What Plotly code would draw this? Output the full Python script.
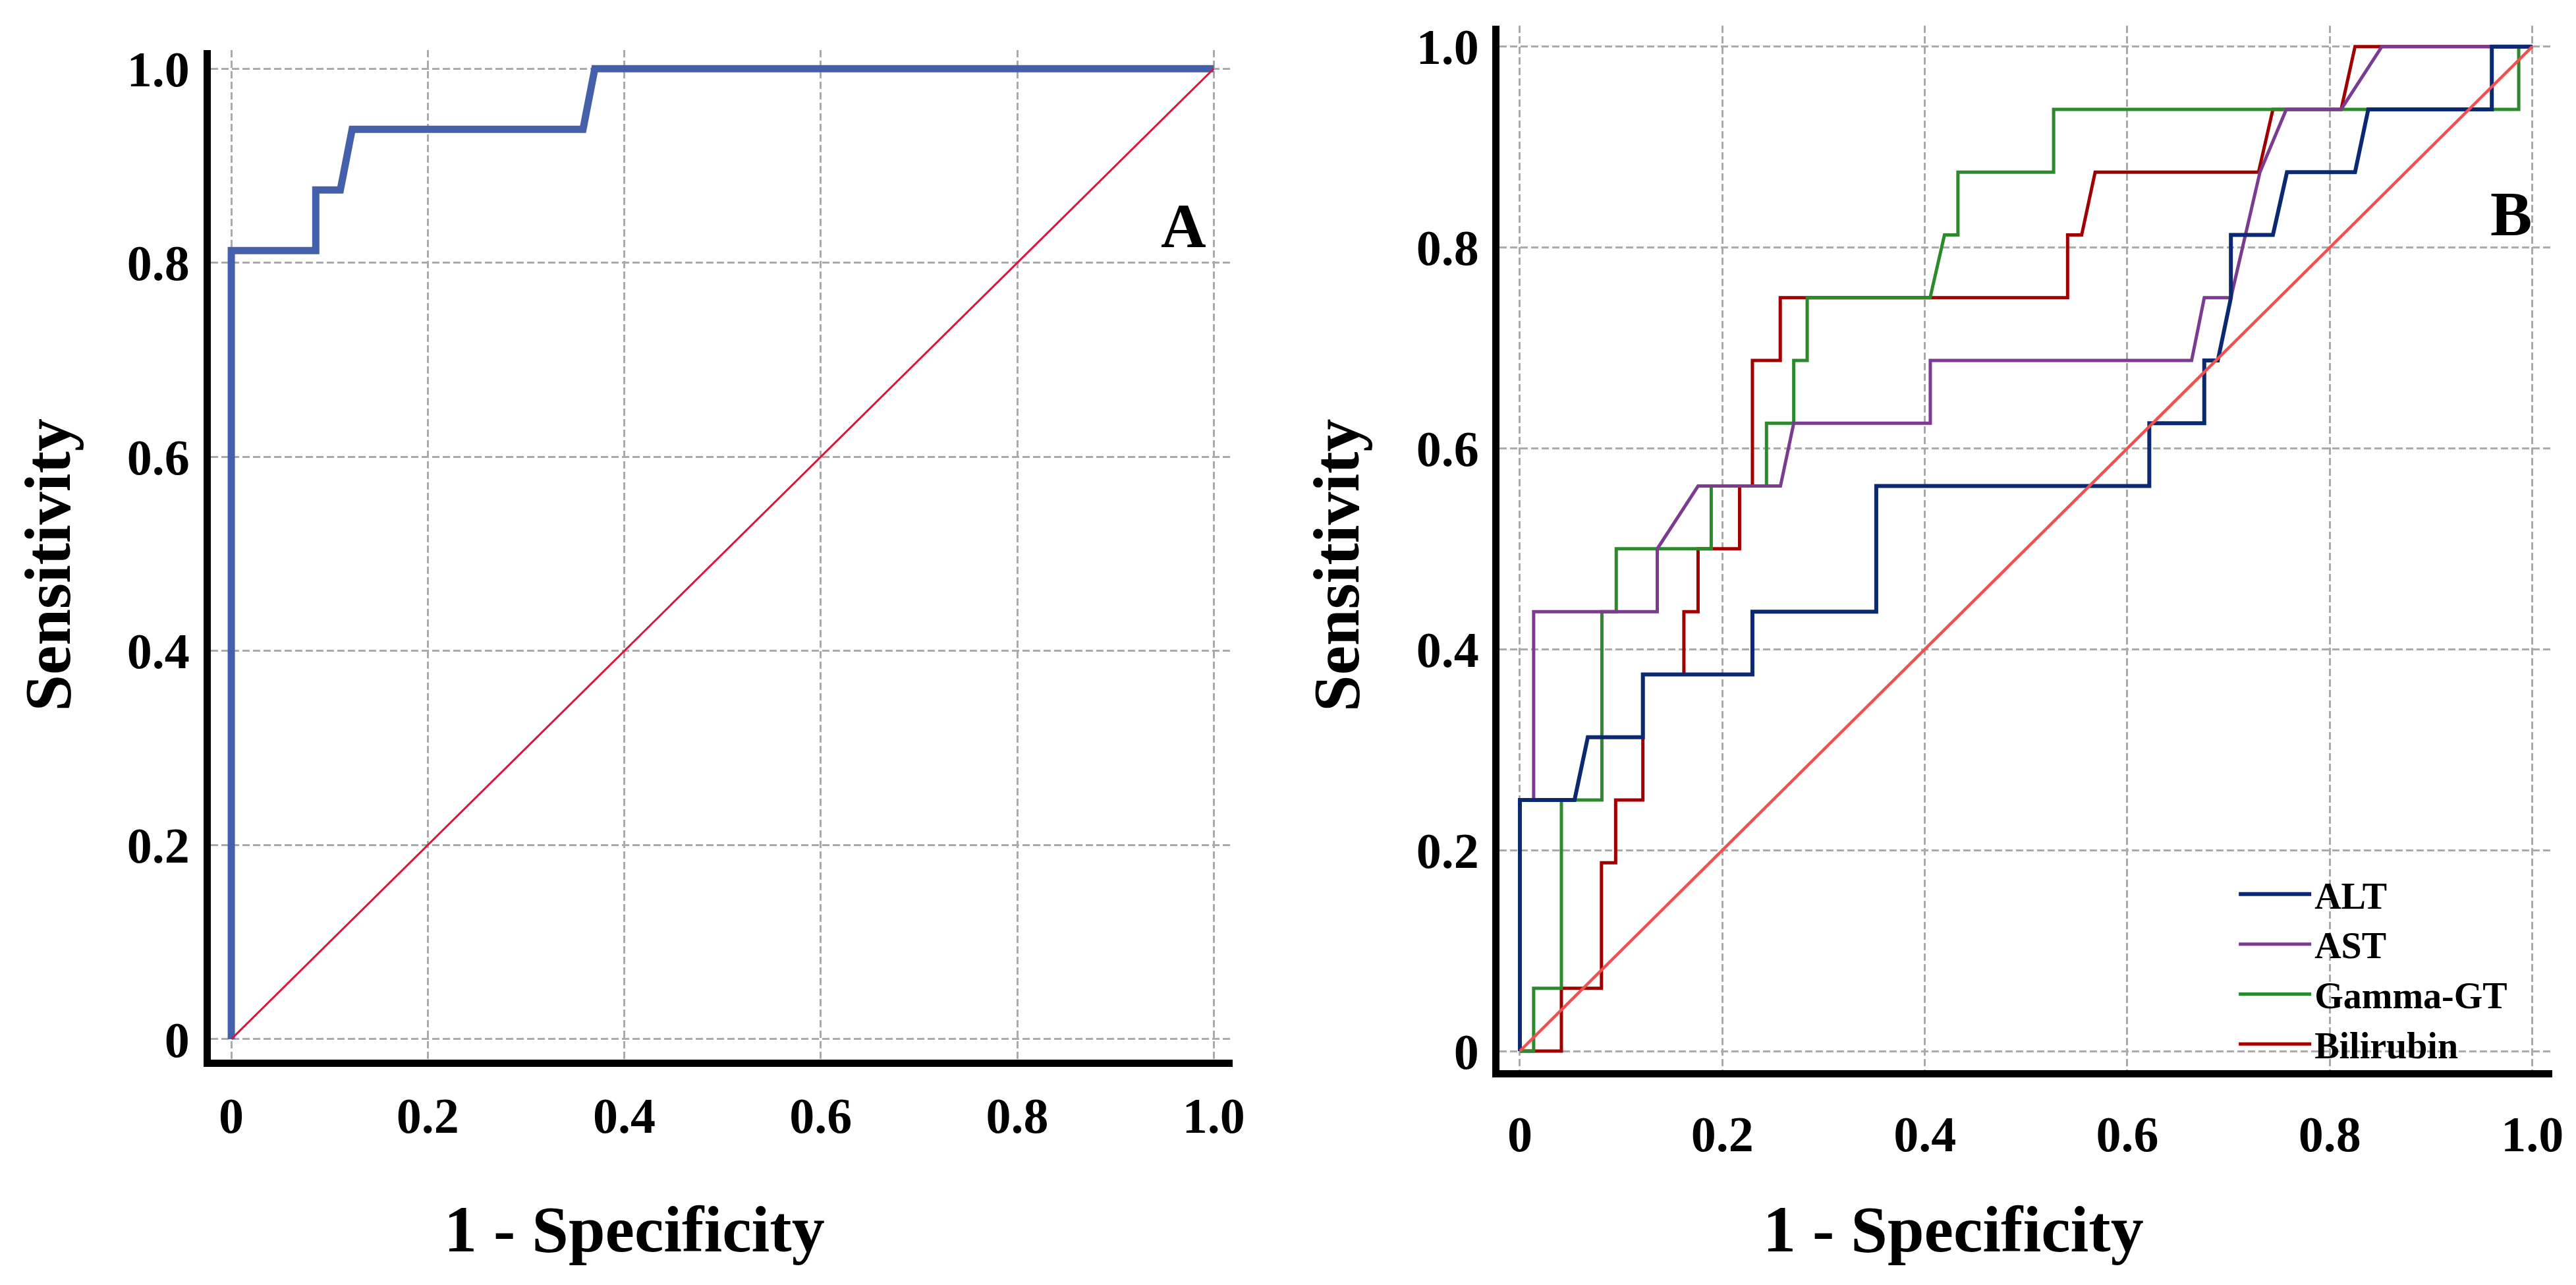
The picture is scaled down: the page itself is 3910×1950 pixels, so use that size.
import plotly.graph_objects as go

# panel A: single ROC curve
fpr_a = [0, 0, 0.086, 0.086, 0.111, 0.123, 0.358, 0.370, 1.0]
tpr_a = [0, 0.8125, 0.8125, 0.875, 0.875, 0.9375, 0.9375, 1.0, 1.0]

# panel B: ROC curves per marker
alt_x = [0, 0, 0.054, 0.0671, 0.1215, 0.1215, 0.2297, 0.2297, 0.352, 0.352, 0.6217, 0.6217,
         0.676, 0.676, 0.6894, 0.7023, 0.7023, 0.7438, 0.7577, 0.8249, 0.838, 0.960, 0.960, 1.0]
alt_y = [0, 0.25, 0.25, 0.3125, 0.3125, 0.375, 0.375, 0.4375, 0.4375, 0.5625, 0.5625, 0.625,
         0.625, 0.6875, 0.6875, 0.75, 0.8125, 0.8125, 0.875, 0.875, 0.9375, 0.9375, 1.0, 1.0]

ast_x = [0, 0, 0.0136, 0.0136, 0.1357, 0.1357, 0.176, 0.2574, 0.2705, 0.4054, 0.4054, 0.6635,
         0.676, 0.7023, 0.731, 0.757, 0.8112, 0.8514, 1.0]
ast_y = [0, 0.25, 0.25, 0.4375, 0.4375, 0.5, 0.5625, 0.5625, 0.625, 0.625, 0.6875, 0.6875,
         0.75, 0.75, 0.875, 0.9375, 0.9375, 1.0, 1.0]

ggt_x = [0, 0.0136, 0.0136, 0.041, 0.041, 0.081, 0.081, 0.0952, 0.0952, 0.189, 0.189, 0.2436,
         0.2436, 0.2705, 0.2705, 0.2838, 0.2838, 0.4052, 0.4194, 0.4327, 0.4327, 0.5272, 0.5272,
         0.9866, 0.9866, 1.0]
ggt_y = [0, 0, 0.0625, 0.0625, 0.25, 0.25, 0.4375, 0.4375, 0.5, 0.5, 0.5625, 0.5625,
         0.625, 0.625, 0.6875, 0.6875, 0.75, 0.75, 0.8125, 0.8125, 0.875, 0.875, 0.9375,
         0.9375, 1.0, 1.0]

bil_x = [0, 0.041, 0.041, 0.0806, 0.0806, 0.0946, 0.0946, 0.1215, 0.1215, 0.162, 0.162, 0.176,
         0.176, 0.217, 0.217, 0.2297, 0.2297, 0.2572, 0.2572, 0.541, 0.541, 0.5549, 0.5682,
         0.7296, 0.7438, 0.8112, 0.8249, 1.0]
bil_y = [0, 0, 0.0625, 0.0625, 0.1875, 0.1875, 0.25, 0.25, 0.375, 0.375, 0.4375, 0.4375,
         0.5, 0.5, 0.5625, 0.5625, 0.6875, 0.6875, 0.75, 0.75, 0.8125, 0.8125, 0.875,
         0.875, 0.9375, 0.9375, 1.0, 1.0]

chance = [0, 1]

tick_vals = [0, 0.2, 0.4, 0.6, 0.8, 1.0]
tick_text = ["0", "0.2", "0.4", "0.6", "0.8", "1.0"]

FONT = "Liberation Serif"

fig = go.Figure()

fig.add_trace(go.Scatter(x=fpr_a, y=tpr_a, mode="lines", showlegend=False,
                         line=dict(color="#4560aa", width=11), xaxis="x", yaxis="y"))
fig.add_trace(go.Scatter(x=chance, y=chance, mode="lines", showlegend=False,
                         line=dict(color="#dc143c", width=3), xaxis="x", yaxis="y"))

# drawn bottom-up, legend reversed
fig.add_trace(go.Scatter(x=bil_x, y=bil_y, mode="lines", name="Bilirubin",
                         line=dict(color="#a00000", width=5), xaxis="x2", yaxis="y2"))
fig.add_trace(go.Scatter(x=ggt_x, y=ggt_y, mode="lines", name="Gamma-GT",
                         line=dict(color="#2b8a2b", width=5), xaxis="x2", yaxis="y2"))
fig.add_trace(go.Scatter(x=ast_x, y=ast_y, mode="lines", name="AST",
                         line=dict(color="#7a3b90", width=5), xaxis="x2", yaxis="y2"))
fig.add_trace(go.Scatter(x=alt_x, y=alt_y, mode="lines", name="ALT",
                         line=dict(color="#0b2870", width=6), xaxis="x2", yaxis="y2"))
fig.add_trace(go.Scatter(x=chance, y=chance, mode="lines", showlegend=False,
                         line=dict(color="#f05050", width=4.5), xaxis="x2", yaxis="y2"))

def axis_style(rng, dom, anchor, standoff):
    return dict(
        range=rng, domain=dom, anchor=anchor,
        tickvals=tick_vals, ticktext=tick_text,
        showgrid=True, gridcolor="#aaaaaa", gridwidth=3, griddash="11px,5px",
        zeroline=False, showline=True, linecolor="black", linewidth=11,
        ticks="", ticklabelstandoff=standoff,
        tickfont=dict(family=FONT, size=76, color="black", weight="bold"),
    )

fig.update_layout(
    width=3910, height=1950,
    margin=dict(l=0, r=0, t=0, b=0),
    paper_bgcolor="white", plot_bgcolor="white",
    xaxis=axis_style([-0.0208, 1.019], [0.0802, 0.4787], "y", 9),
    yaxis=axis_style([-0.0208, 1.019], [0.1754, 0.9713], "x", 6),
    xaxis2=axis_style([-0.0201, 1.0198], [0.5829, 0.9936], "y2", 21),
    yaxis2=axis_style([-0.0192, 1.0205], [0.1667, 0.9904], "x2", 5),
    legend=dict(x=0.870, y=0.328, xanchor="left", yanchor="top",
                traceorder="reversed", itemwidth=110, bgcolor="rgba(0,0,0,0)",
                font=dict(family=FONT, size=56, color="black", weight="bold")),
)

title_font = dict(family=FONT, size=100, color="black", weight="bold")
label_font = dict(family=FONT, size=95, color="black", weight="bold")

axis_titles = [
    ("Sensitivity", 0.0166, 0.565, -90),
    ("1 - Specificity", 0.2455, 0.0415, 0),
    ("Sensitivity", 0.5194, 0.565, -90),
    ("1 - Specificity", 0.7599, 0.0415, 0),
]
for txt, ax_x, ax_y, ang in axis_titles:
    fig.add_annotation(text=txt, x=ax_x, y=ax_y, xref="paper", yref="paper",
                       xanchor="center", yanchor="middle", textangle=ang,
                       showarrow=False, font=title_font)

fig.add_annotation(text="A", x=0.969, y=0.838, xref="x", yref="y",
                   xanchor="center", yanchor="middle", showarrow=False, font=label_font)
fig.add_annotation(text="B", x=0.979, y=0.833, xref="x2", yref="y2",
                   xanchor="center", yanchor="middle", showarrow=False, font=label_font)

fig.write_html("out.html")
